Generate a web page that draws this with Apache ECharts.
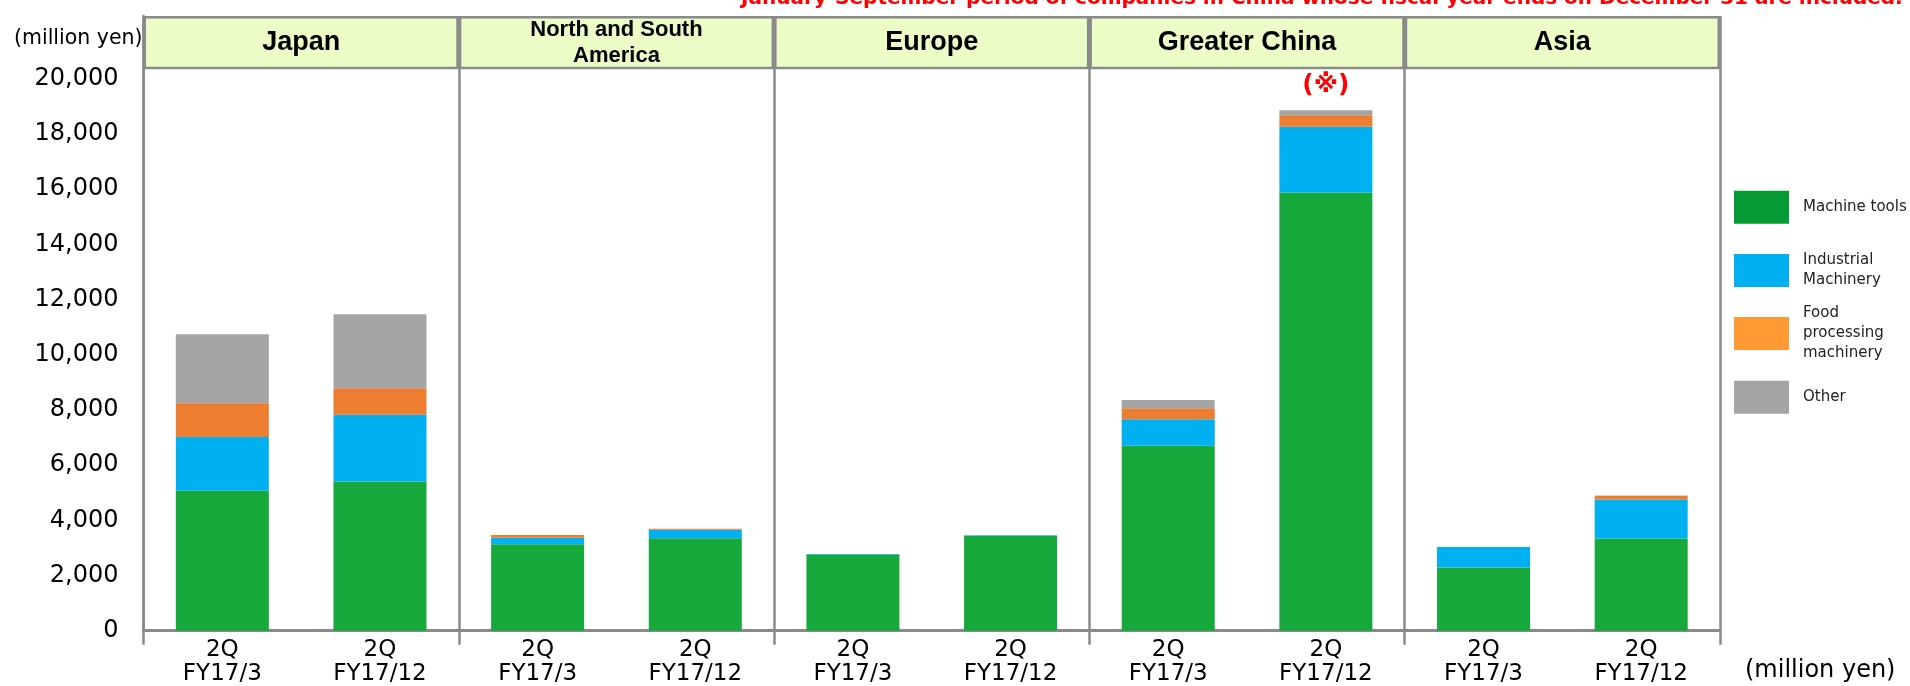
<!DOCTYPE html>
<html>
<head>
<meta charset="utf-8">
<script src="https://cdn.jsdelivr.net/npm/echarts@6/dist/echarts.min.js"></script>
<style>
  html, body { margin: 0; padding: 0; background: #ffffff; }
  #chart { width: 1910px; height: 686px; }
</style>
</head>
<body>
<div id="chart"></div>
<script>
// Regions shown in the header row, two periods per region
const regions = ['Japan', 'North and South\nAmerica', 'Europe', 'Greater China', 'Asia'];
const periods = [
  '2Q\nFY17/3', '2Q\nFY17/12',
  '2Q\nFY17/3', '2Q\nFY17/12',
  '2Q\nFY17/3', '2Q\nFY17/12',
  '2Q\nFY17/3', '2Q\nFY17/12',
  '2Q\nFY17/3', '2Q\nFY17/12'
];

// Sales by segment (million yen)
const machineTools        = [5070, 5410, 3130, 3350, 2750, 3440, 6700, 15880, 2290, 3340];
const industrialMachinery = [1950, 2410,  240,  310,   30,   20,  960,  2380,  740, 1410];
const foodProcessing      = [1220,  960,  100,   30,    0,    0,  400,   420,    0,  130];
const otherSales          = [2500, 2690,    0,    0,    0,    0,  300,   180,    0,   20];

const seriesNames = ['Machine tools', 'Industrial\nMachinery', 'Food\nprocessing\nmachinery', 'Other'];
const noteMark = '(※)';
const noteIndex = 7;
const footnote = 'January-September period of companies in China whose fiscal year ends on December 31 are included.';
const unitLabel = '(million yen)';

// Layout
const W = 1910, H = 686;
const plotLeft = 143.5, plotRight = 1720;
const headerTop = 16, headerBottom = 69.3;
const axisY = 630.7;          // value 0
const y20000 = 78.7;          // value 20000
const yMax = 20000 * (axisY - headerTop) / (axisY - y20000);

const frameColor = '#8a8a8a';
const barColors = ['#16a83a', '#00b0f0', '#ed7d31', '#a5a5a5'];
const swatchColors = ['#069a35', '#00b0f0', '#ff9933', '#a5a5a5'];
const txtFont = 'DejaVu Sans';
const legendLineHeight = 20;

const chart = echarts.init(document.getElementById('chart'), null, { renderer: 'canvas' });

const stacks = [machineTools, industrialMachinery, foodProcessing, otherSales];

const barSeries = stacks.map((vals, si) => ({
  name: seriesNames[si],
  type: 'bar',
  stack: 'sales',
  xAxisIndex: 0,
  yAxisIndex: 0,
  barCategoryGap: '41%',
  itemStyle: { color: barColors[si] },
  emphasis: { disabled: true },
  data: vals.map((v, i) => {
    if (si === 3 && i === noteIndex) {
      return {
        value: v,
        label: {
          show: true, position: 'top', distance: 12,
          formatter: noteMark, color: '#ff0000',
          fontSize: 25, fontWeight: 'bold',
          fontFamily: 'DejaVu Sans, Noto Sans CJK JP'
        }
      };
    }
    return v;
  })
}));

// Header row: one cell per region; two-line names use a smaller size
const headerSeries = {
  type: 'bar',
  xAxisIndex: 2,
  yAxisIndex: 1,
  barCategoryGap: '0%',
  silent: true,
  itemStyle: { color: '#ebfcc6', borderColor: frameColor, borderWidth: 2.5 },
  label: {
    show: true, position: 'inside', color: '#000',
    fontWeight: 'bold', fontFamily: 'Liberation Sans', formatter: '{b}'
  },
  data: regions.map(r => {
    const twoLine = r.indexOf('\n') >= 0;
    return {
      value: 1,
      label: twoLine ? { fontSize: 22, lineHeight: 26 } : { fontSize: 27, lineHeight: 30 }
    };
  })
};

// Legend swatches, one block per series so they keep an even pitch
const legendLineCounts = seriesNames.map(n => n.split('\n').length);
const swatchTops = [190.7, 254, 317, 380.7];
const legends = seriesNames.map((n, i) => ({
  orient: 'vertical',
  left: 1734,
  top: swatchTops[i] - Math.max(0, (legendLineCounts[i] * legendLineHeight - 33) / 2),
  padding: 0,
  itemWidth: 55,
  itemHeight: 33,
  icon: 'rect',
  selectedMode: false,
  data: [{ name: n, itemStyle: { color: swatchColors[i] } }],
  textStyle: {
    fontFamily: txtFont, fontSize: 15, lineHeight: legendLineHeight, color: '#222',
    padding: [0, 0, 0, 9]
  }
}));

const option = {
  backgroundColor: '#ffffff',
  animation: false,
  legend: legends,
  grid: [
    { left: plotLeft, right: W - plotRight, top: headerTop, bottom: H - axisY, containLabel: false },
    { left: plotLeft, right: W - plotRight, top: headerTop, height: headerBottom - headerTop, containLabel: false }
  ],
  xAxis: [
    {
      type: 'category', gridIndex: 0, position: 'bottom', data: periods,
      axisLine: { show: true, lineStyle: { color: frameColor, width: 3 } },
      axisTick: { show: false },
      splitLine: { show: false },
      axisLabel: {
        interval: 0, margin: 7, color: '#000', fontSize: 23, lineHeight: 24,
        fontFamily: txtFont
      }
    },
    {
      type: 'category', gridIndex: 0, position: 'bottom', data: regions,
      axisLine: { show: false },
      axisTick: { show: true, length: 14, lineStyle: { color: frameColor, width: 2.5 } },
      axisLabel: { show: false },
      splitLine: { show: true, lineStyle: { color: frameColor, width: 2.5 } }
    },
    {
      type: 'category', gridIndex: 1, data: regions,
      axisLine: { show: false }, axisTick: { show: false },
      axisLabel: { show: false }, splitLine: { show: false }
    }
  ],
  yAxis: [
    {
      type: 'value', gridIndex: 0, min: 0, max: yMax, interval: 2000,
      axisLine: { show: true, lineStyle: { color: frameColor, width: 2.5 } },
      axisTick: { show: false },
      splitLine: { show: false },
      axisLabel: {
        margin: 25, color: '#000', fontSize: 24, fontFamily: txtFont,
        formatter: v => (v > 20000 ? '' : echarts.format.addCommas(v))
      }
    },
    {
      type: 'value', gridIndex: 1, min: 0, max: 1, show: false
    }
  ],
  graphic: [
    {
      type: 'text', left: 14, top: 28.5,
      style: { text: unitLabel, fill: '#000', font: '20.5px "DejaVu Sans"' }
    },
    {
      type: 'text', left: 1745, top: 659,
      style: { text: unitLabel, fill: '#000', font: '24px "DejaVu Sans"' }
    },
    {
      type: 'text', x: 741, y: -1.5,
      style: {
        text: footnote, fill: '#ff0000', font: 'bold 20px "DejaVu Sans"',
        verticalAlign: 'middle'
      }
    }
  ],
  series: barSeries.concat([headerSeries])
};

chart.setOption(option);
</script>
</body>
</html>
